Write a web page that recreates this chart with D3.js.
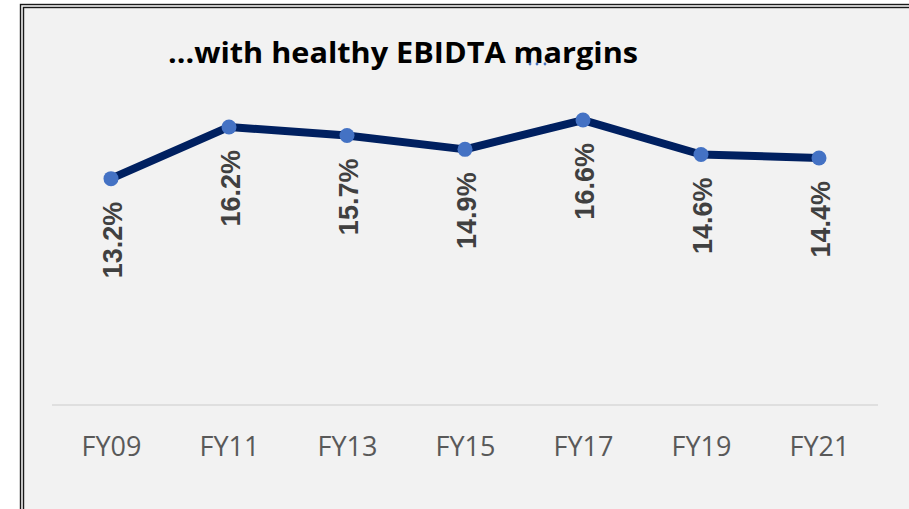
<!DOCTYPE html>
<html>
<head>
<meta charset="utf-8">
<script src="https://cdn.jsdelivr.net/npm/d3@7"></script>
<style>
    html, body { margin: 0; padding: 0; background: #fff; }
    svg { display: block; }
</style>
</head>
<body>
<div class="charts-div"></div>
<script>
const categories = ["FY09", "FY11", "FY13", "FY15", "FY17", "FY19", "FY21"];
const margins = [13.2, 16.2, 15.7, 14.9, 16.6, 14.6, 14.4];
const titleText = "\u2026with healthy EBIDTA margins";

const W = 909, H = 509;
const plot = { left: 52, right: 878, top: 61.5, bottom: 406 };

const svg = d3.select(".charts-div").append("svg")
    .attr("width", W)
    .attr("height", H);

// frame: grey panel with a double border on top / left
svg.append("rect")
    .attr("x", 20.5).attr("y", 4.5)
    .attr("width", W + 20).attr("height", H + 20)
    .attr("fill", "#f2f2f2")
    .attr("stroke", "#1a1a1a").attr("stroke-width", 1.4);
svg.append("rect")
    .attr("x", 23.5).attr("y", 7.5)
    .attr("width", W + 20).attr("height", H + 20)
    .attr("fill", "none")
    .attr("stroke", "#1a1a1a").attr("stroke-width", 1.4);

const x = d3.scalePoint()
    .domain(categories)
    .range([plot.left, plot.right])
    .padding(0.5);

const y = d3.scaleLinear()
    .domain([0, 20])
    .range([plot.bottom, plot.top]);

// baseline + category labels
const xAxis = svg.append("g")
    .attr("transform", `translate(0,${plot.bottom - 1})`)
    .call(d3.axisBottom(x).tickSize(0).tickPadding(0));
xAxis.select(".domain")
    .attr("d", `M${plot.left},0H${plot.right}`)
    .attr("stroke", "#d9d9d9")
    .attr("stroke-width", 1.5);
xAxis.selectAll(".tick text")
    .attr("y", 51)
    .attr("dy", null)
    .attr("font-family", "'Open Sans', sans-serif")
    .attr("font-size", 27)
    .attr("fill", "#595959");

const data = categories.map((c, i) => ({ cat: c, value: margins[i] }));

const line = d3.line()
    .x((d) => x(d.cat))
    .y((d) => y(d.value));

svg.append("path")
    .datum(data)
    .attr("d", line)
    .attr("fill", "none")
    .attr("stroke", "#002060")
    .attr("stroke-width", 8)
    .attr("stroke-linejoin", "round");

svg.selectAll("circle.marker")
    .data(data)
    .enter()
    .append("circle")
    .attr("class", "marker")
    .attr("cx", (d) => x(d.cat))
    .attr("cy", (d) => y(d.value))
    .attr("r", 7.5)
    .attr("fill", "#4472c4");

// rotated data labels, reading upward, ending just below each point
svg.selectAll("text.data-label")
    .data(data)
    .enter()
    .append("text")
    .attr("class", "data-label")
    .attr("transform", (d) => `translate(${x(d.cat) + 1},${y(d.value) + 23}) rotate(-90)`)
    .attr("text-anchor", "end")
    .attr("dy", "0.36em")
    .attr("font-family", "'Liberation Sans', Arial, sans-serif")
    .attr("font-weight", "bold")
    .attr("font-size", 27)
    .attr("fill", "#404040")
    .text((d) => d.value.toFixed(1) + "%");

svg.append("text")
    .attr("x", 403)
    .attr("y", 63)
    .attr("text-anchor", "middle")
    .attr("font-family", "'Open Sans', sans-serif")
    .attr("font-weight", "bold")
    .attr("font-size", 29)
    .attr("textLength", 470)
    .attr("lengthAdjust", "spacingAndGlyphs")
    .attr("fill", "#000")
    .text(titleText);

// small blue marks under the title
svg.selectAll("circle.dot")
    .data([530, 537, 545])
    .enter()
    .append("circle")
    .attr("class", "dot")
    .attr("cx", (d) => d)
    .attr("cy", 64)
    .attr("r", 1.4)
    .attr("fill", "#4472c4");
</script>
</body>
</html>
